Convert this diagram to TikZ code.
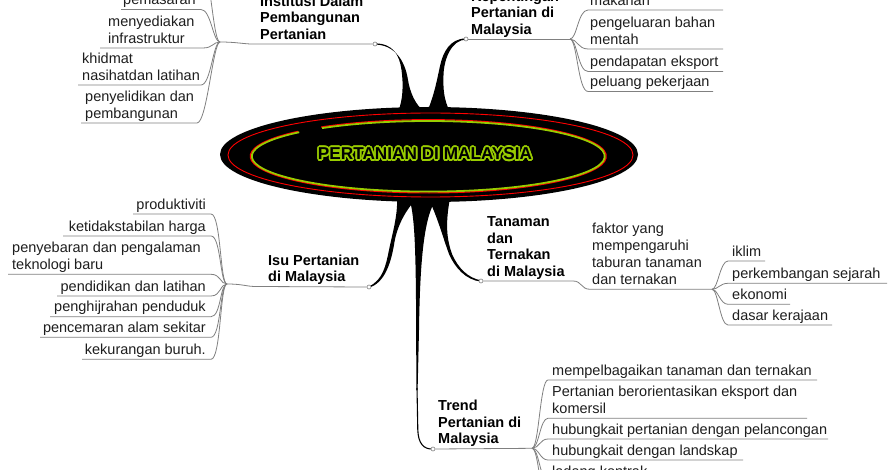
\documentclass[tikz,border=0pt]{standalone}
\usepackage{fontspec}
\setmainfont{Liberation Sans}
\definecolor{lgray}{HTML}{808080}
\definecolor{ygreen}{HTML}{99CC00}
\definecolor{tcol}{HTML}{1E1E1E}
\newcommand{\ulstrut}{\rule[-4.5pt]{0pt}{12pt}}
\begin{document}
\begin{tikzpicture}[x=1pt,y=-1pt,
  conn/.style={draw=lgray, line width=0.8pt},
  item/.style={inner sep=0pt, font=\fontsize{14.5}{17}\selectfont, text=tcol, align=left, execute at end node=\ulstrut},
  ttl/.style={inner sep=0pt, font=\fontsize{14.5}{16.6}\selectfont\bfseries, text=black, align=left, execute at end node=\ulstrut},
  endc/.style={circle, draw=lgray, fill=white, inner sep=0pt, minimum size=4pt, line width=0.6pt},
  ctext/.style={inner sep=0pt, font=\fontsize{17.2}{20}\selectfont\bfseries}]
\clip (0,0) rectangle (894,470);
\fill[white] (0,0) rectangle (894,470);

% end points of the black branches
\coordinate (p1) at (375,44);
\coordinate (p2) at (466,39);
\coordinate (p3) at (369,287);
\coordinate (p4) at (481,281);
\coordinate (p5) at (433,449);

% black tapered branches
\fill[black] (375,43.4) .. controls (393,43.4) and (399.5,55) .. (401.5,70) .. controls (403.5,85) and (403,100) .. (398,112) -- (425,112) .. controls (415,105) and (410,92) .. (408,80) .. controls (405,60) and (394,44.6) .. (375,44.6) -- cycle;
\fill[black] (466,38.4) .. controls (450,38.6) and (443,52) .. (440,66) .. controls (437,80) and (434,96) .. (427,112) -- (450,112) .. controls (444,100) and (443,90) .. (443.5,75) .. controls (444,58) and (452,39.8) .. (466,39.6) -- cycle;
\fill[black] (397,198) .. controls (398,215) and (392,235) .. (389,250) .. controls (386,265) and (383,280) .. (369,286.4) -- (369,287.6) .. controls (385,283) and (391,262) .. (394,245) .. controls (396,230) and (403,213) .. (417,198) -- cycle;
\fill[black] (428,198) .. controls (437,215) and (443,238) .. (449,254) .. controls (455,268) and (466,280) .. (481,281.6) -- (481,280.4) .. controls (468,278) and (458,268) .. (452,254) .. controls (447,240) and (445,225) .. (450,198) -- cycle;
\fill[black] (409,198) .. controls (414,212) and (415.5,240) .. (416,300) -- (416.4,390) -- (417.6,390) -- (419,330) .. controls (420,260) and (424,215) .. (437,198) -- cycle;
\draw[black, line width=1.1pt] (417,388) -- (417.8,430) .. controls (418.3,444) and (424,449.5) .. (p5);

% central ellipse
\fill[black] (429,154.5) ellipse [x radius=209, y radius=47.5];
\draw[red, line width=0.9pt] (430.5,155) ellipse [x radius=202.5, y radius=42];
\coordinate (gc) at (428.3,156.3);
\draw[red, line width=1.2pt] ([shift={(233:178 and 36.6)}]gc) arc[start angle=233, end angle=583, x radius=178, y radius=36.6];
\draw[ygreen, line width=1.8pt] ([shift={(233:176.5 and 35.3)}]gc) arc[start angle=233, end angle=583, x radius=176.5, y radius=35.3];
\coordinate (ctc) at (425,153.7);
\foreach \a in {0,24,...,336} \node[ctext, text=ygreen] (ol\a) at ([shift={(\a:1.7pt)}]ctc) {PERTANIAN DI MALAYSIA};
\node[ctext, text=black] (ct) at (ctc) {PERTANIAN DI MALAYSIA};

% end circles
\node[endc] (c1) at (p1) {};
\node[endc] (c2) at (p2) {};
\node[endc] (c3) at (p3) {};
\node[endc] (c4) at (p4) {};
\node[endc] (c5) at (p5) {};

% ---------- Institusi Dalam Pembangunan Pertanian ----------
\coordinate (H1) at (220,42);
\coordinate (a0) at (203,-28);
\node[ttl, anchor=south west] (t1) at (260,44) {Institusi Dalam\\Pembangunan\\Pertanian};
\node[item, anchor=south west] (a1) at (123,9.5) {pemasaran};
\node[item, anchor=south west] (a2) at (108,48) {menyediakan\\infrastruktur};
\node[item, anchor=south west] (a3) at (82,85) {khidmat\\nasihatdan latihan};
\node[item, anchor=south west] (a4) at (85,123) {penyelidikan dan\\pembangunan};
\draw[conn] (H1) .. controls (236,42) and (244,44) .. ([xshift=-8pt]t1.south west) -- (c1.west);
\draw[conn] (H1) .. controls +(-7,0) and +(8,0) .. (a0);
\draw[conn] (H1) .. controls +(-7,0) and +(10,0) .. ([xshift=78pt]a1.south west) -- ([xshift=-2pt]a1.south west);
\draw[conn] (H1) .. controls +(-7,0) and +(10,0) .. ([xshift=95pt]a2.south west) -- ([xshift=-8pt]a2.south west);
\draw[conn] (H1) .. controls +(-7,0) and +(10,0) .. ([xshift=119pt]a3.south west) -- ([xshift=-4pt]a3.south west);
\draw[conn] (H1) .. controls +(-7,0) and +(10,0) .. ([xshift=112pt]a4.south west) -- ([xshift=-4pt]a4.south west);

% ---------- Kepentingan Pertanian di Malaysia ----------
\coordinate (H2) at (570,39);
\node[ttl, anchor=south west] (t2) at (471,39) {Kepentingan\\Pertanian di\\Malaysia};
\node[item, anchor=south west] (b1) at (590,10) {makanan};
\node[item, anchor=south west] (b2) at (590,49) {pengeluaran bahan\\mentah};
\node[item, anchor=south west] (b3) at (590,71.5) {pendapatan eksport};
\node[item, anchor=south west] (b4) at (590,91.5) {peluang pekerjaan};
\draw[conn] (c2.east) -- (H2);
\draw[conn] (H2) .. controls +(7,0) and +(-10,0) .. ([xshift=-2pt]b1.south west) -- ([xshift=133pt]b1.south west);
\draw[conn] (H2) .. controls +(7,0) and +(-10,0) .. ([xshift=-2pt]b2.south west) -- ([xshift=133pt]b2.south west);
\draw[conn] (H2) .. controls +(7,0) and +(-10,0) .. ([xshift=-2pt]b3.south west) -- ([xshift=133pt]b3.south west);
\draw[conn] (H2) .. controls +(7,0) and +(-10,0) .. ([xshift=-2pt]b4.south west) -- ([xshift=123pt]b4.south west);

% ---------- Isu Pertanian di Malaysia ----------
\coordinate (H3) at (227,284);
\node[ttl, anchor=south west] (t3) at (268,286.5) {Isu Pertanian\\di Malaysia};
\node[item, anchor=south east] (d1) at (206,214) {produktiviti};
\node[item, anchor=south east] (d2) at (206,236) {ketidakstabilan harga};
\node[item, anchor=south west] (d3) at (12,274.3) {penyebaran dan pengalaman\\teknologi baru};
\node[item, anchor=south east] (d4) at (206,296) {pendidikan dan latihan};
\node[item, anchor=south east] (d5) at (206,316.7) {penghijrahan penduduk};
\node[item, anchor=south east] (d6) at (206,337.3) {pencemaran alam sekitar};
\node[item, anchor=south east] (d7) at (206,359.3) {kekurangan buruh.};
\draw[conn] (H3) .. controls (243,284) and (246,286.5) .. ([xshift=-12pt]t3.south west) -- (c3.west);
\draw[conn] (H3) .. controls +(-7,0) and +(10,0) .. ([xshift=5pt]d1.south east) -- ([xshift=-73pt]d1.south east);
\draw[conn] (H3) .. controls +(-7,0) and +(10,0) .. ([xshift=5pt]d2.south east) -- ([xshift=-143pt]d2.south east);
\draw[conn] (H3) .. controls +(-7,0) and +(10,0) .. ([xshift=199pt]d3.south west) -- ([xshift=-4pt]d3.south west);
\draw[conn] (H3) .. controls +(-7,0) and +(10,0) .. ([xshift=5pt]d4.south east) -- ([xshift=-149pt]d4.south east);
\draw[conn] (H3) .. controls +(-7,0) and +(10,0) .. ([xshift=5pt]d5.south east) -- ([xshift=-156pt]d5.south east);
\draw[conn] (H3) .. controls +(-7,0) and +(10,0) .. ([xshift=5pt]d6.south east) -- ([xshift=-166pt]d6.south east);
\draw[conn] (H3) .. controls +(-7,0) and +(10,0) .. ([xshift=5pt]d7.south east) -- ([xshift=-124pt]d7.south east);

% ---------- Tanaman dan Ternakan di Malaysia ----------
\coordinate (H4) at (712,289.3);
\node[ttl, anchor=south west] (t4) at (487,281) {Tanaman\\dan\\Ternakan\\di Malaysia};
\node[item, anchor=south west] (f) at (592,289.3) {faktor yang\\mempengaruhi\\taburan tanaman\\dan ternakan};
\node[item, anchor=south west] (e1) at (732,261) {iklim};
\node[item, anchor=south west] (e2) at (732,283.3) {perkembangan sejarah};
\node[item, anchor=south west] (e3) at (732,304.3) {ekonomi};
\node[item, anchor=south west] (e4) at (732,325) {dasar kerajaan};
\draw[conn] (c4.east) -- ([xshift=86pt]t4.south west) .. controls +(9,0) and +(-9,0) .. ([xshift=-2pt]f.south west) -- (H4);
\draw[conn] (H4) .. controls +(6,0) and +(-8,0) .. ([xshift=-4pt]e1.south west) -- ([xshift=33pt]e1.south west);
\draw[conn] (H4) .. controls +(6,0) and +(-8,0) .. ([xshift=-4pt]e2.south west) -- ([xshift=155pt]e2.south west);
\draw[conn] (H4) .. controls +(6,0) and +(-8,0) .. ([xshift=-4pt]e3.south west) -- ([xshift=58pt]e3.south west);
\draw[conn] (H4) .. controls +(6,0) and +(-8,0) .. ([xshift=-4pt]e4.south west) -- ([xshift=100pt]e4.south west);

% ---------- Trend Pertanian di Malaysia ----------
\coordinate (H5) at (532,448.3);
\coordinate (g6) at (548,503);
\node[ttl, anchor=south west] (t5) at (438,448.3) {Trend\\Pertanian di\\Malaysia};
\node[item, anchor=south west] (g1) at (552,380) {mempelbagaikan tanaman dan ternakan};
\node[item, anchor=south west] (g2) at (552,418.3) {Pertanian berorientasikan eksport dan\\komersil};
\node[item, anchor=south west] (g3) at (552,439) {hubungkait pertanian dengan pelancongan};
\node[item, anchor=south west] (g4) at (552,460) {hubungkait dengan landskap};
\node[item, anchor=south west] (g5) at (552,481) {ladang kontrak};
\draw[conn] (c5.east) -- (H5);
\draw[conn] (H5) .. controls +(7,0) and +(-8,0) .. ([xshift=-4pt]g1.south west) -- ([xshift=265pt]g1.south west);
\draw[conn] (H5) .. controls +(7,0) and +(-8,0) .. ([xshift=-4pt]g2.south west) -- ([xshift=255pt]g2.south west);
\draw[conn] (H5) .. controls +(7,0) and +(-8,0) .. ([xshift=-4pt]g3.south west) -- ([xshift=276pt]g3.south west);
\draw[conn] (H5) .. controls +(7,0) and +(-8,0) .. ([xshift=-4pt]g4.south west) -- ([xshift=191pt]g4.south west);
\draw[conn] (H5) .. controls +(7,0) and +(-8,0) .. ([xshift=-4pt]g5.south west) -- ([xshift=120pt]g5.south west);
\draw[conn] (H5) .. controls +(7,0) and +(-8,0) .. (g6);
\end{tikzpicture}
\end{document}
